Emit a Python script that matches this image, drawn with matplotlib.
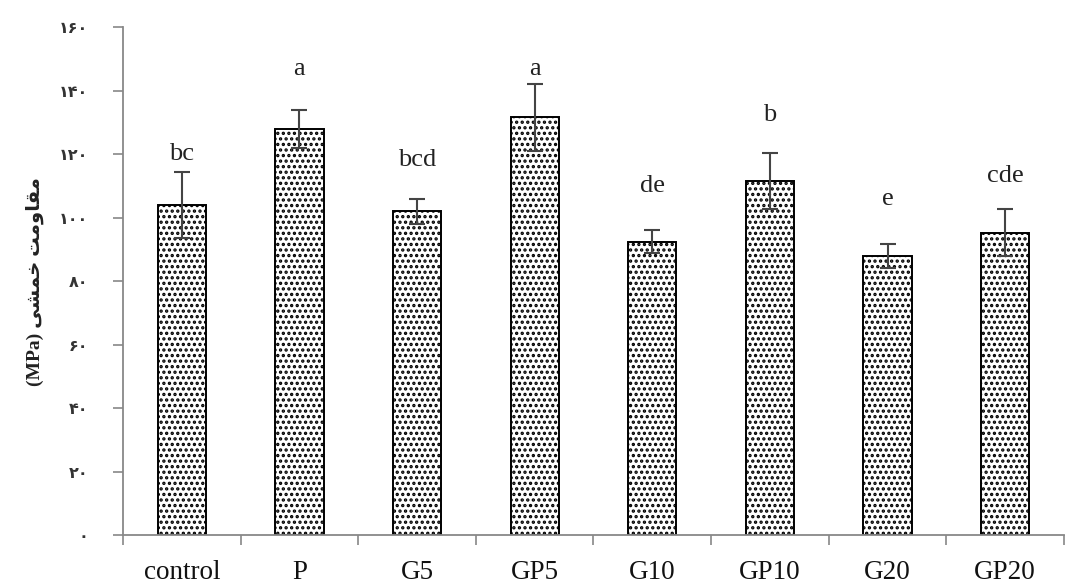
import matplotlib
matplotlib.use("Agg")
import matplotlib.pyplot as plt
import numpy as np

categories = ["control", "P", "G5", "GP5", "G10", "GP10", "G20", "GP20"]
means = [104.0, 128.0, 102.0, 131.7, 92.5, 111.6, 88.0, 95.3]
errors = [10.4, 6.0, 4.0, 10.6, 3.5, 8.8, 3.8, 7.5]
letters = ["bc", "a", "bcd", "a", "de", "b", "e", "cde"]
letter_y = [120.2, 147.0, 118.3, 147.0, 110.0, 132.5, 106.0, 113.2]
yticks = [0, 20, 40, 60, 80, 100, 120, 140, 160]

persian_digits = str.maketrans("0123456789", "\u06f0\u06f1\u06f2\u06f3\u06f4\u06f5\u06f6\u06f7\u06f8\u06f9")
ytick_labels = [str(v).translate(persian_digits) for v in yticks]

# "مقاومت خمشی (MPa)" pre-shaped in presentation forms, visual order
word1 = "\ufee3\ufed8\ufe8e\ufeed\ufee3\ufe96"   # مقاومت
word2 = "\ufea7\ufee4\ufeb8\ufef0"               # خمشی
ylabel = "(MPa) " + word2[::-1] + " " + word1[::-1]

plt.rcParams["hatch.linewidth"] = 1.6
plt.rcParams["hatch.color"] = "black"

fig = plt.figure(figsize=(10.65, 5.85), dpi=100)
ax = fig.add_axes([0.1155, 0.0855, 0.8835, 0.8675])

x = np.arange(len(categories))
ax.bar(x, means, width=0.41, color="white", edgecolor="black", linewidth=1.4,
       hatch="...", zorder=2)
ax.errorbar(x, means, yerr=errors, fmt="none", ecolor="#444444", elinewidth=1.5,
            capsize=5.5, capthick=1.5, zorder=3)

for xi, lab, ly in zip(x, letters, letter_y):
    ax.text(xi, ly, lab, ha="center", va="center", fontsize=19,
            family="Liberation Serif", color="#222222")

ax.set_xlim(-0.5, len(categories) - 0.5)
ax.set_ylim(0, 160)
ax.set_yticks(yticks)
ax.set_yticklabels(ytick_labels, family="DejaVu Sans", fontsize=11.5, fontweight="bold",
                   color="#333333")
ax.set_xticks(x)
ax.set_xticklabels(categories, family="Liberation Serif", fontsize=19.5, color="#111111")
ax.set_xticks(np.arange(len(categories) + 1) - 0.5, minor=True)
ax.tick_params(axis="x", which="major", length=0, pad=18)
ax.tick_params(axis="x", which="minor", length=7, width=1.2, color="#888888", direction="out")
ax.tick_params(axis="y", length=7, width=1.2, color="#888888", pad=18)

for s in ["top", "right"]:
    ax.spines[s].set_visible(False)
for s in ["left", "bottom"]:
    ax.spines[s].set_color("#888888")
    ax.spines[s].set_linewidth(1.3)

ax.set_ylabel(ylabel, family=["Liberation Serif", "DejaVu Sans"], fontsize=14,
              fontweight="bold", labelpad=11, color="#222222")

fig.savefig("out.png", dpi=100)
